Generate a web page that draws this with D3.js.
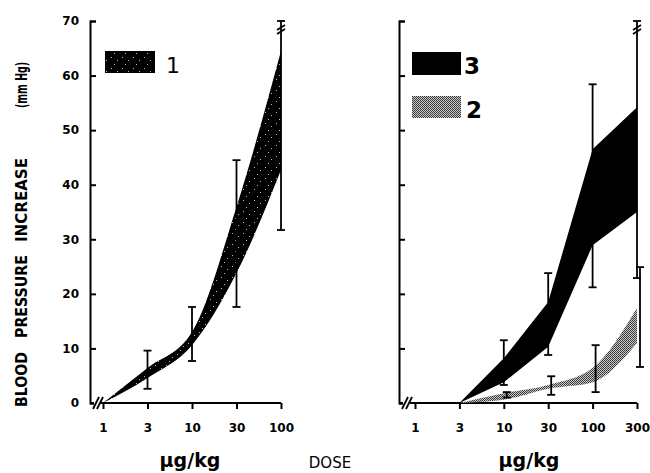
<!DOCTYPE html>
<html lang="en">
	<head>
		<meta charset="utf-8">
		<title>Blood pressure increase vs dose</title>
		<script type="text/javascript" src="https://cdn.jsdelivr.net/npm/d3@7"></script>
		<style type="text/css">
			body { margin: 0; background: #fff; }
			.axis path,
			.axis line {
				fill: none;
				stroke: black;
				stroke-width: 2;
			}
			.axis text {
				font-family: "DejaVu Sans", sans-serif;
				font-weight: bold;
				font-size: 12px;
				fill: black;
			}
			.lbl {
				font-family: "DejaVu Sans", sans-serif;
				font-weight: bold;
				fill: black;
			}
		</style>
	</head>
	<body>
		<script type="text/javascript">

		// ---- data ----
		var dosesLeft = ["1", "3", "10", "30", "100"]
		var dosesRight = ["1", "3", "10", "30", "100", "300"]
		var yTicks = [0, 10, 20, 30, 40, 50, 60, 70]

		// band 1 (left panel)
		var s1Dose = ["1", "3", "10", "30", "100"]
		var s1Low  = [0, 4.6, 10.6, 23.8, 42.7]
		var s1High = [0, 6.4, 13.0, 35.9, 64.5]
		var s1ErrDose = ["3", "10", "30", "100"]
		var s1ErrLo = [2.6, 7.7, 17.6, 31.7]
		var s1ErrHi = [9.6, 17.6, 44.5, 70]

		// band 3 (right panel, solid black)
		var s3Dose = ["3", "10", "30", "100", "300"]
		var s3Low  = [0, 3.8, 10.3, 28.9, 35.0]
		var s3High = [0, 8.2, 18.5, 46.5, 54.2]
		var s3ErrDose = ["10", "30", "100", "300"]
		var s3ErrLo = [3.3, 8.8, 21.2, 22.9]
		var s3ErrHi = [11.5, 23.8, 58.4, 70]

		// band 2 (right panel, stippled)
		var s2Dose = ["3", "10", "30", "100", "300"]
		var s2Low  = [0, 0.6, 2.6, 3.8, 11.0]
		var s2High = [0, 1.8, 3.3, 6.4, 17.4]
		var s2ErrDose = ["10", "30", "100", "300"]
		var s2ErrLo = [1.0, 1.5, 2.0, 6.6]
		var s2ErrHi = [2.0, 4.9, 10.6, 24.9]

		var w = 650
		var h = 473
		var svg = d3.select("body")
		            .append("svg")
		            .attr("width", w)
		            .attr("height", h)

		var defs = svg.append("defs")

		// speckled black for band 1
		var p1 = defs.append("pattern")
		             .attr("id", "speck")
		             .attr("width", 11).attr("height", 11)
		             .attr("patternUnits", "userSpaceOnUse")
		p1.append("rect").attr("width", 11).attr("height", 11).attr("fill", "#000")
		;[[1, 2], [7, 5], [4, 9]].forEach(function(p){
			p1.append("rect").attr("x", p[0]).attr("y", p[1])
			  .attr("width", 1).attr("height", 1).attr("fill", "#bbb")
		})

		// grey stipple for band 2
		var p2 = defs.append("pattern")
		             .attr("id", "stipple")
		             .attr("width", 2).attr("height", 2)
		             .attr("patternUnits", "userSpaceOnUse")
		p2.append("rect").attr("width", 2).attr("height", 2).attr("fill", "#c8c8c8")
		p2.append("rect").attr("width", 1).attr("height", 1).attr("fill", "#333")
		p2.append("rect").attr("x", 1).attr("y", 1).attr("width", 1).attr("height", 1).attr("fill", "#444")

		//scales
		var yScale = d3.scaleLinear()
		               .domain([0, 70])
		               .range([403, 21])

		var xLeft = d3.scalePoint()
		              .domain(dosesLeft)
		              .range([103, 281])

		var xRight = d3.scalePoint()
		               .domain(dosesRight)
		               .range([415, 637])

		function drawPanel(x0, xScale, xEnd, showLabels){
			// y axis, ticks point inward
			var yAxis = d3.axisLeft(yScale)
			              .tickValues(yTicks)
			              .tickSize(-6)
			              .tickSizeOuter(-6)
			              .tickPadding(11)
			              .tickFormat(showLabels ? d3.format("d") : "")
			svg.append("g")
			   .attr("class", "axis")
			   .attr("transform", "translate(" + x0 + ",0)")
			   .call(yAxis)

			// x axis baseline
			svg.append("line")
			   .attr("x1", x0).attr("x2", xEnd)
			   .attr("y1", yScale(0)).attr("y2", yScale(0))
			   .attr("stroke", "black").attr("stroke-width", 2)

			var xAxis = d3.axisBottom(xScale)
			              .tickSize(6)
			              .tickPadding(14)
			svg.append("g")
			   .attr("class", "axis")
			   .attr("transform", "translate(0," + yScale(0) + ")")
			   .call(xAxis)
			   .select(".domain").remove()

			// axis break marks near the origin
			var bx = x0 + 6
			var by = yScale(0)
			svg.append("rect")
			   .attr("x", bx - 2).attr("y", by - 3).attr("width", 7).attr("height", 6)
			   .attr("fill", "white")
			;[0, 4].forEach(function(o){
				svg.append("line")
				   .attr("x1", bx - 3 + o).attr("y1", by + 6)
				   .attr("x2", bx + 3 + o).attr("y2", by - 6)
				   .attr("stroke", "black").attr("stroke-width", 1.8)
			})
		}

		function band(xScale, dose, lo, hi, fill, curve){
			var rows = dose.map(function(d, i){ return {d: d, lo: lo[i], hi: hi[i]} })
			var area = d3.area()
			             .x(function(r){ return xScale(r.d) })
			             .y0(function(r){ return yScale(r.lo) })
			             .y1(function(r){ return yScale(r.hi) })
			             .curve(curve)
			svg.append("path")
			   .datum(rows)
			   .attr("d", area)
			   .attr("fill", fill)
		}

		function errBars(xScale, dose, lo, hi, dx){
			var rows = dose.map(function(d, i){ return {d: d, lo: lo[i], hi: hi[i]} })
			var g = svg.append("g").attr("stroke", "black").attr("stroke-width", 1.8)
			rows.forEach(function(r){
				var x = xScale(r.d) + dx
				g.append("line")
				 .attr("x1", x).attr("x2", x)
				 .attr("y1", yScale(r.lo)).attr("y2", yScale(r.hi))
				g.append("line")
				 .attr("x1", x - 4).attr("x2", x + 4)
				 .attr("y1", yScale(r.lo)).attr("y2", yScale(r.lo))
				g.append("line")
				 .attr("x1", x - 4).attr("x2", x + 4)
				 .attr("y1", yScale(r.hi)).attr("y2", yScale(r.hi))
				if (r.hi >= 70) {
					// break marks at the top
					;[0, 4].forEach(function(o){
						g.append("line")
						 .attr("x1", x - 4).attr("y1", yScale(70) + 9 + o)
						 .attr("x2", x + 4).attr("y2", yScale(70) + 4 + o)
					})
				}
			})
		}

		// left panel
		drawPanel(90, xLeft, 281, true)
		band(xLeft, s1Dose, s1Low, s1High, "url(#speck)", d3.curveMonotoneX)
		errBars(xLeft, s1ErrDose, s1ErrLo, s1ErrHi, 0)

		// right panel
		drawPanel(399, xRight, 637, false)
		band(xRight, s2Dose, s2Low, s2High, "url(#stipple)", d3.curveMonotoneX)
		band(xRight, s3Dose, s3Low, s3High, "#000", d3.curveLinear)
		errBars(xRight, s3ErrDose, s3ErrLo, s3ErrHi, 0)
		errBars(xRight, s2ErrDose, s2ErrLo, s2ErrHi, 3)

		// legends
		svg.append("rect").attr("x", 105).attr("y", 51).attr("width", 50).attr("height", 22)
		   .attr("fill", "url(#speck)")
		svg.append("text").attr("class", "lbl").attr("x", 166).attr("y", 73)
		   .style("font-size", "22px").style("font-weight", "normal").text("1")

		svg.append("rect").attr("x", 412).attr("y", 52).attr("width", 49).attr("height", 23)
		   .attr("fill", "#000")
		svg.append("text").attr("class", "lbl").attr("x", 464).attr("y", 74)
		   .style("font-size", "23px").text("3")

		svg.append("rect").attr("x", 412).attr("y", 96).attr("width", 49).attr("height", 22)
		   .attr("fill", "url(#stipple)")
		svg.append("text").attr("class", "lbl").attr("x", 466).attr("y", 118)
		   .style("font-size", "23px").text("2")

		// y axis title, one word at a time (start y, length)
		var yWords = [["BLOOD", 407, 55, 15], ["PRESSURE", 338, 83, 15],
		              ["INCREASE", 242, 84, 15], ["(mm Hg)", 108, 46, 15]]
		yWords.forEach(function(wd, i){
			svg.append("text").attr("class", "lbl")
			   .attr("transform", "translate(27," + wd[1] + ") rotate(-90)")
			   .attr("textLength", wd[2])
			   .attr("lengthAdjust", "spacingAndGlyphs")
			   .style("font-family", i == 3 ? "'Liberation Sans Narrow', 'DejaVu Sans Condensed', sans-serif" : null)
			   .style("font-size", wd[3] + "px")
			   .text(wd[0])
		})

		svg.append("text").attr("class", "lbl")
		   .attr("x", 190).attr("y", 467).attr("text-anchor", "middle")
		   .style("font-size", "19px")
		   .text("μg/kg")
		svg.append("text").attr("class", "lbl")
		   .attr("x", 529).attr("y", 467).attr("text-anchor", "middle")
		   .style("font-size", "19px")
		   .text("μg/kg")
		svg.append("text").attr("class", "lbl")
		   .attr("x", 330).attr("y", 468).attr("text-anchor", "middle")
		   .style("font-size", "15px").style("font-weight", "normal")
		   .text("DOSE")

		</script>
	</body>
</html>
